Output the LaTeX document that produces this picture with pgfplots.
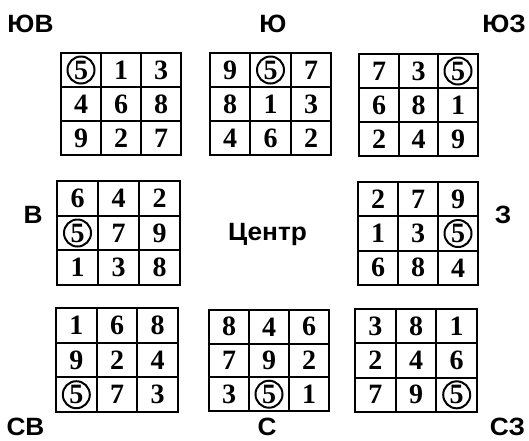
\documentclass[border=0pt]{standalone}
\usepackage{fontspec}
\setmainfont{Liberation Serif}
\newfontfamily\labfont{Liberation Sans}[FakeStretch=1.05]
\usepackage{pgfplots}
\pgfplotsset{compat=1.18}

\newcommand{\magic}[4]{%
 \pgfmathsetmacro\xa{#1+(#3-#1)/3}%
 \pgfmathsetmacro\xb{#1+2*(#3-#1)/3}%
 \pgfmathsetmacro\ya{#2+(#4-#2)/3}%
 \pgfmathsetmacro\yb{#2+2*(#4-#2)/3}%
 \addplot[black, line width=2.0pt] coordinates {(\xa,#2) (\xa,#4)};
 \addplot[black, line width=2.0pt] coordinates {(\xb,#2) (\xb,#4)};
 \addplot[black, line width=2.0pt] coordinates {(#1,\ya) (#3,\ya)};
 \addplot[black, line width=2.0pt] coordinates {(#1,\yb) (#3,\yb)};
 \addplot[black, line width=2.6pt, line join=miter] coordinates {(#1,#2) (#3,#2) (#3,#4) (#1,#4) (#1,#2) (#3,#2)};
}

\begin{document}
\begin{tikzpicture}
\begin{axis}[
  width=529pt, height=440pt, scale only axis,
  xmin=0, xmax=529, ymin=0, ymax=440, y dir=reverse,
  hide axis, clip=false,
  digits/.style={draw=none, mark=none, nodes near coords, point meta=explicit symbolic,
    every node near coord/.append style={font=\bfseries\fontsize{28}{28}\selectfont, inner sep=0pt, anchor=center, text=black}},
  labs/.style={draw=none, mark=none, nodes near coords, point meta=explicit symbolic,
    every node near coord/.append style={font=\labfont\bfseries\fontsize{25}{25}\selectfont, inner sep=0pt, anchor=base, text=black}},
]
\addplot[draw=none, mark=none] coordinates {(0,0) (529,440)};

% grids
\magic{61}{53}{181}{155}
\magic{210}{53}{331}{155}
\magic{359}{54}{478}{156}
\magic{57}{181}{180}{285}
\magic{358}{182}{478}{285}
\magic{56}{308}{178}{412}
\magic{209}{310}{329}{411}
\magic{355}{309}{477}{412}

% digits
\addplot[digits] table[meta=d, row sep=\\] {
x y d \\
81 70 5 \\ 121 70 1 \\ 161 70 3 \\
81 104 4 \\ 121 104 6 \\ 161 104 8 \\
81 138 9 \\ 121 138 2 \\ 161 138 7 \\
230 70 9 \\ 270.5 70 5 \\ 311 70 7 \\
230 104 8 \\ 270.5 104 1 \\ 311 104 3 \\
230 138 4 \\ 270.5 138 6 \\ 311 138 2 \\
379 71 7 \\ 418.5 71 3 \\ 458 71 5 \\
379 105 6 \\ 418.5 105 8 \\ 458 105 1 \\
379 139 2 \\ 418.5 139 4 \\ 458 139 9 \\
77.5 198.3 6 \\ 118.5 198.3 4 \\ 159.5 198.3 2 \\
77.5 233 5 \\ 118.5 233 7 \\ 159.5 233 9 \\
77.5 267.7 1 \\ 118.5 267.7 3 \\ 159.5 267.7 8 \\
378 199.2 2 \\ 418 199.2 7 \\ 458 199.2 9 \\
378 233.5 1 \\ 418 233.5 3 \\ 458 233.5 5 \\
378 267.8 6 \\ 418 267.8 8 \\ 458 267.8 4 \\
76.3 325.3 1 \\ 117 325.3 6 \\ 157.7 325.3 8 \\
76.3 360 9 \\ 117 360 2 \\ 157.7 360 4 \\
76.3 394.7 5 \\ 117 394.7 7 \\ 157.7 394.7 3 \\
229 326.8 8 \\ 269 326.8 4 \\ 309 326.8 6 \\
229 360.5 7 \\ 269 360.5 9 \\ 309 360.5 2 \\
229 394.2 3 \\ 269 394.2 5 \\ 309 394.2 1 \\
375.3 326.2 3 \\ 416 326.2 8 \\ 456.7 326.2 1 \\
375.3 360.5 2 \\ 416 360.5 4 \\ 456.7 360.5 6 \\
375.3 394.8 7 \\ 416 394.8 9 \\ 456.7 394.8 5 \\
};

% circled fives
\addplot[only marks, mark=o, mark size=13.5pt, mark options={line width=2pt, black}] coordinates {
(81,70) (270.5,70) (458,71) (77.5,233) (458,233.5) (76.3,394.7) (269,394.2) (456.7,394.8)
};

% direction labels
\addplot[labs] coordinates {
(30.5,32) [ЮВ]
(273,32) [Ю]
(504,32) [ЮЗ]
(33,223) [В]
(267.5,240) [Центр]
(503,223) [З]
(25.5,435) [СВ]
(267,435) [С]
(507.5,435) [СЗ]
};
\end{axis}
\end{tikzpicture}
\end{document}
